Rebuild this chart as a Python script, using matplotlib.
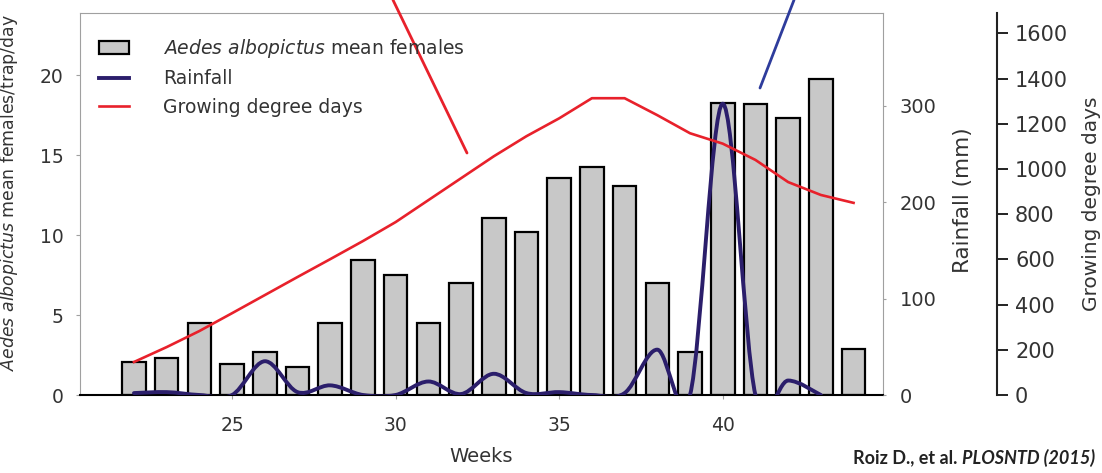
import matplotlib
matplotlib.use("Agg")
import matplotlib.pyplot as plt
from matplotlib.path import Path
from matplotlib.patches import PathPatch
from matplotlib.lines import Line2D
import numpy as np

# weekly data
weeks = [22, 23, 24, 25, 26, 27, 28, 29, 30, 31, 32, 33, 34, 35, 36, 37, 38, 39, 40, 41, 42, 43, 44]
females = [2.05, 2.3, 4.5, 1.95, 2.7, 1.75, 4.5, 8.45, 7.5, 4.5, 7.0, 11.1, 10.2, 13.6, 14.25, 13.05,
           7.0, 2.7, 18.3, 18.2, 17.3, 19.8, 2.9]
gdd = [146, 212, 283, 362, 442, 522, 601, 681, 765, 862, 959, 1056, 1145, 1224, 1313, 1313,
       1238, 1158, 1112, 1040, 942, 885, 850]
rain_weeks = [22, 23, 24, 25, 26, 27, 28, 29, 30, 31, 32, 33, 34, 35, 36, 37, 38, 39, 40, 41, 42, 43]
rainfall = [2, 3, 0, 0, 35, 3, 10, 0, 0, 14, 1, 22, 2, 3, 0, 2, 47, 0, 302, 0, 15, 0]

bar_col = "#c8c8c8"
rain_col = "#2b1e6b"
gdd_col = "#e8212b"
txt_col = "#333333"
gray = "#a0a0a0"

W, H = 1102, 473
fig = plt.figure(figsize=(W / 100, H / 100), dpi=100)
ax = fig.add_axes([80 / W, 1 - 395 / H, (883 - 80) / W, (395 - 13) / H])

bars = ax.bar(weeks, females, width=0.72, color=bar_col, edgecolor="black", linewidth=1.6)
ax.set_xlim(20.35, 44.9)
ax.set_ylim(0, 23.9)
ax.set_xticks([25, 30, 35, 40])
ax.set_yticks([0, 5, 10, 15, 20])
ax.tick_params(axis="both", colors=gray, labelcolor=txt_col, labelsize=13.5, length=3)
ax.tick_params(axis="x", pad=12)
ax.tick_params(axis="y", pad=9)
for s in ["left", "top", "right"]:
    ax.spines[s].set_color(gray)
ax.spines["bottom"].set_color("black")
ax.spines["bottom"].set_linewidth(1.5)
ax.set_xlabel("Weeks", fontsize=14, color=txt_col, labelpad=9)
ax.set_ylabel(r"$\it{Aedes\ albopictus}$ mean females/trap/day", fontsize=12.4, color=txt_col)
ax.yaxis.set_label_coords(-0.075, 0.53)

# rainfall axis
ax_r = ax.twinx()
ax_r.set_ylim(0, 396)
ax_r.set_yticks([0, 100, 200, 300])
ax_r.tick_params(axis="y", colors=gray, labelcolor=txt_col, labelsize=14, length=2, pad=10)
for s in ax_r.spines.values():
    s.set_visible(False)
ax_r.set_ylabel("Rainfall (mm)", fontsize=15.5, color=txt_col, rotation=90)
ax_r.yaxis.set_label_coords(1.087, 0.51)

# smooth rainfall curve (Catmull-Rom drawn as cubic Bezier path)
pts = np.column_stack([rain_weeks, rainfall]).astype(float)
verts = [pts[0]]
codes = [Path.MOVETO]
n = len(pts)
for i in range(n - 1):
    p0 = pts[i - 1] if i > 0 else pts[i]
    p1 = pts[i]
    p2 = pts[i + 1]
    p3 = pts[i + 2] if i + 2 < n else pts[i + 1]
    verts += [p1 + (p2 - p0) / 6, p2 - (p3 - p1) / 6, p2]
    codes += [Path.CURVE4] * 3
rain_patch = PathPatch(Path(verts, codes), fill=False, edgecolor=rain_col, lw=2.8,
                       capstyle="round", joinstyle="round")
ax_r.add_patch(rain_patch)

# growing degree days axis
ax_g = ax.twinx()
ax_g.spines["right"].set_position(("axes", (997 - 80) / 803))
for s in ["left", "top", "bottom"]:
    ax_g.spines[s].set_visible(False)
ax_g.spines["right"].set_color("#222222")
ax_g.spines["right"].set_linewidth(1.5)
ax_g.set_ylim(0, 1690)
ax_g.set_yticks(range(0, 1601, 200))
ax_g.tick_params(axis="y", colors="#222222", labelcolor=txt_col, labelsize=15,
                 length=8, width=1.4, pad=5)
gdd_line, = ax_g.plot(weeks, gdd, color=gdd_col, lw=1.9)
ax_g.set_ylabel("Growing degree days", fontsize=14.5, color=txt_col, rotation=90)
ax_g.yaxis.set_label_coords(1.248, 0.50)

rain_proxy = Line2D([], [], color=rain_col, lw=2.8)
leg = ax_g.legend([bars, rain_proxy, gdd_line],
                  [r"$\it{Aedes\ albopictus}$ mean females", "Rainfall", "Growing degree days"],
                  loc="upper left", bbox_to_anchor=(0.003, 0.981), frameon=False,
                  fontsize=13.5, handlelength=1.6, handletextpad=1.8, labelspacing=0.49)
for t in leg.get_texts():
    t.set_color(txt_col)

# pointer lines running off the top
ax.annotate("", xy=(467 / W, 1 - 153 / H), xytext=(393 / W, 1.0), xycoords="figure fraction",
            arrowprops=dict(arrowstyle="-", color=gdd_col, lw=2, shrinkA=0, shrinkB=0),
            annotation_clip=False)
ax.annotate("", xy=(760 / W, 1 - 88 / H), xytext=(794 / W, 1.0), xycoords="figure fraction",
            arrowprops=dict(arrowstyle="-", color="#2e3c9c", lw=2, shrinkA=0, shrinkB=0),
            annotation_clip=False)

# citation
t1 = fig.text(853 / W, 1 - 458 / H, "Roiz D., et al. ", fontsize=13, fontweight="bold",
              family="Lato", color="#222222", va="center")
ax.annotate("PLOSNTD (2015)", xy=(1, 0.5), xycoords=t1, va="center", ha="left",
            fontsize=13, fontweight="bold", fontstyle="italic", family="Lato", color="#222222",
            annotation_clip=False)

fig.savefig("out.png", dpi=100)
